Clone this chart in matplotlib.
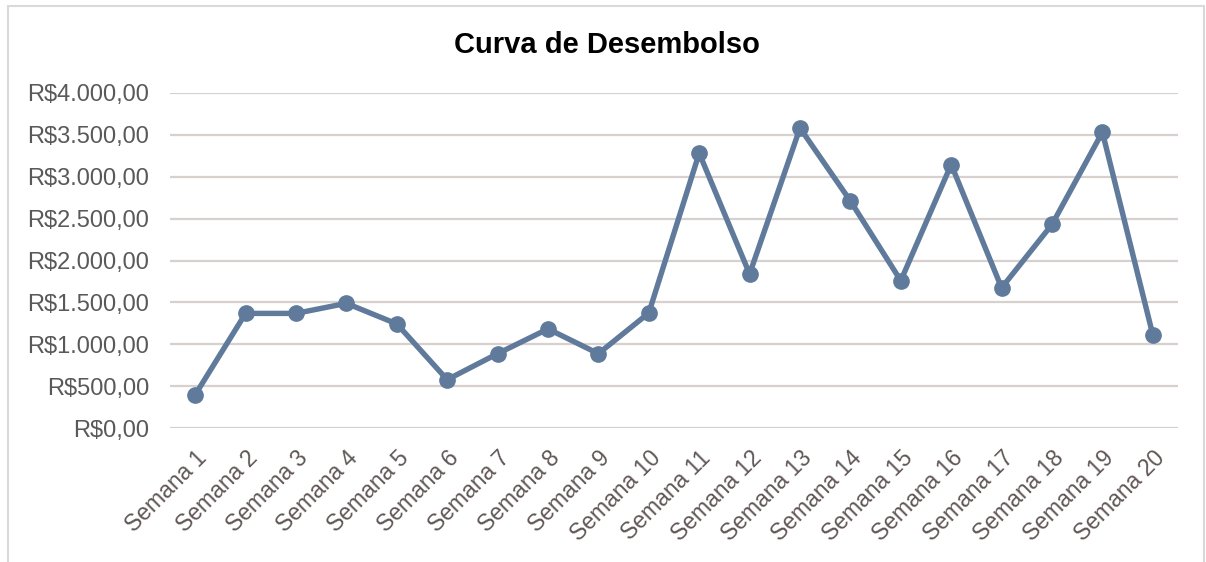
import matplotlib
matplotlib.use("Agg")
import matplotlib.pyplot as plt
from matplotlib.ticker import FuncFormatter, MultipleLocator
from matplotlib.patches import Rectangle

semanas = ["Semana %d" % i for i in range(1, 21)]
valores = [400, 1370, 1370, 1490, 1245, 580, 890, 1185, 890, 1375,
           3280, 1840, 3580, 2710, 1760, 3145, 1675, 2430, 3530, 1115]

plt.rcParams['font.family'] = ['Liberation Sans', 'DejaVu Sans']


def reais(v, pos):
    s = "{:,.2f}".format(v)
    s = s.replace(",", "X").replace(".", ",").replace("X", ".")
    return "R$" + s


fig = plt.figure(figsize=(12.06, 5.62), dpi=100)
ax = fig.add_axes([170/1206, 1-428.3/562, 1008/1206, (428.3-92.8)/562])

# moldura do grafico
fig.patches.append(Rectangle((8/1206, -0.05), 1196/1206, 1-6/562+0.05,
                             transform=fig.transFigure, fill=False,
                             edgecolor='#d9d9d9', linewidth=1.5))

x = list(range(len(semanas)))
ax.plot(x, valores, color='#5f7a9b', linewidth=3.9, marker='o',
        markersize=11, zorder=3)

ax.set_xlim(-0.5, len(semanas)-0.5)
ax.set_ylim(0, 4000)
ax.yaxis.set_major_locator(MultipleLocator(500))
ax.yaxis.set_major_formatter(FuncFormatter(reais))
ax.grid(axis='y', color='#d8d0cc', linewidth=1.6)
ax.set_axisbelow(True)
for s in ax.spines.values():
    s.set_visible(False)

ax.set_xticks(x)
ax.set_xticklabels(semanas, rotation=45, ha='right', rotation_mode='anchor',
                   fontsize=16.5, color='#605656')
ax.tick_params(axis='both', length=0)
ax.tick_params(axis='x', pad=13)
ax.tick_params(axis='y', labelsize=17, labelcolor='#595959', pad=15)

fig.text(0.503, 1-45/562, "Curva de Desembolso", ha='center', va='center',
         fontsize=21, fontweight='bold', color='black')

fig.savefig("out.png", dpi=100)
